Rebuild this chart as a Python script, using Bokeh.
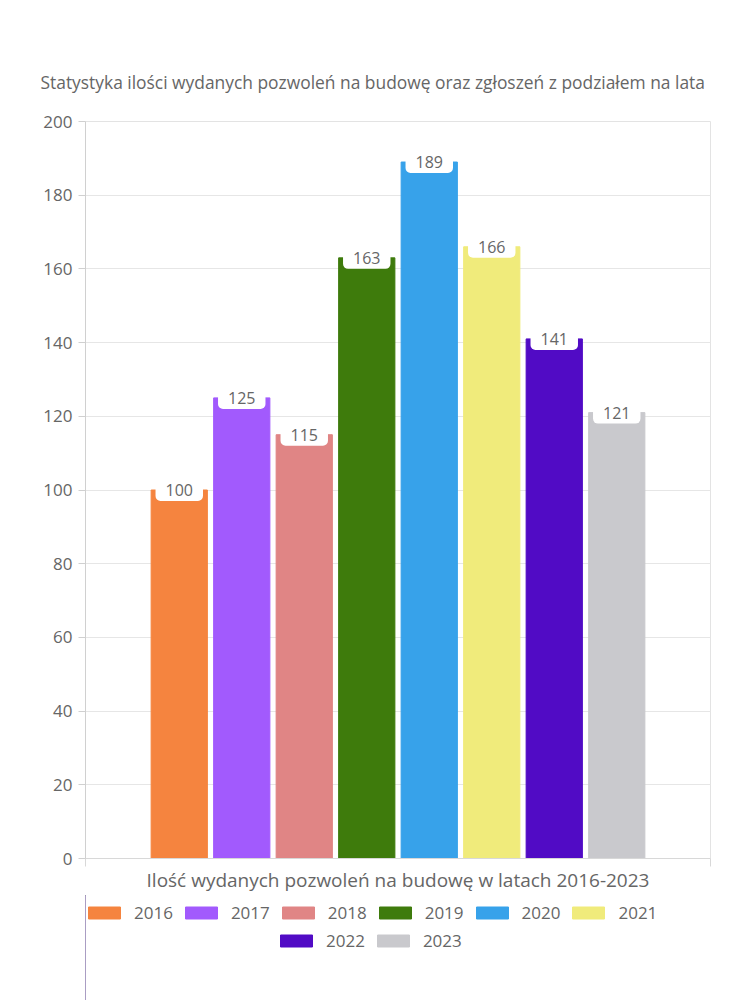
from bokeh.plotting import figure
from bokeh.layouts import column
from bokeh.models import Range1d, FixedTicker, Label, Legend, LegendItem, ColumnDataSource
from bokeh.embed import file_html
from bokeh.resources import INLINE

years = ["2016", "2017", "2018", "2019", "2020", "2021", "2022", "2023"]
values = [100, 125, 115, 163, 189, 166, 141, 121]
colors = ["#F5843F", "#A25AFD", "#E08585", "#3E7B0C", "#37A2EA", "#F0EB7B", "#510BC5", "#C9C9CD"]
y_ticks = [0, 20, 40, 60, 80, 100, 120, 140, 160, 180, 200]
title_text = "Statystyka ilości wydanych pozwoleń na budowę oraz zgłoszeń z podziałem na lata"
x_label = "Ilość wydanych pozwoleń na budowę w latach 2016-2023"

FONT = "Open Sans"
TXT = "#666666"

n = len(years)
xs = [i + 1.5 for i in range(n)]

p = figure(frame_width=625, frame_height=737, output_backend="svg", toolbar_location=None,
           x_range=Range1d(0, n + 2), y_range=Range1d(0, 200),
           min_border_left=85, min_border_right=40, min_border_top=121, min_border_bottom=37)
p.background_fill_color = "white"
p.border_fill_color = "white"
p.outline_line_color = "#e3e3e3"

p.title.text = title_text
p.title.align = "left"
p.title.offset = -45
p.title.standoff = 55
p.title.text_font = FONT
p.title.text_font_size = "17.4px"
p.title.text_font_style = "normal"
p.title.text_color = TXT

src = ColumnDataSource(dict(x=xs, top=values, color=colors, year=years))
r = p.vbar(x="x", top="top", width=0.9, color="color", source=src)

for x, v in zip(xs, values):
    p.add_layout(Label(x=x, y=v, text=str(v), text_align="center", text_baseline="middle",
                       text_font=FONT, text_font_size="16px", text_color=TXT,
                       background_fill_color="white", border_radius=5, padding=(10, 5)))

p.xgrid.visible = False
p.ygrid.grid_line_color = "#e6e6e6"

p.yaxis.ticker = FixedTicker(ticks=y_ticks)
p.yaxis.major_tick_out = 7
p.yaxis.major_tick_in = 0
p.yaxis.minor_tick_line_color = None
p.yaxis.axis_line_color = "#d0d0d0"
p.yaxis.major_tick_line_color = "#d0d0d0"
p.yaxis.major_label_standoff = 6
p.yaxis.major_label_text_font = FONT
p.yaxis.major_label_text_font_size = "17px"
p.yaxis.major_label_text_color = TXT

p.xaxis.ticker = FixedTicker(ticks=[0, n + 2])
p.xaxis.major_label_text_font_size = "0px"
p.xaxis.major_tick_out = 8
p.xaxis.major_tick_in = 0
p.xaxis.minor_tick_line_color = None
p.xaxis.axis_line_color = "#d8d8d8"
p.xaxis.major_tick_line_color = "#d8d8d8"
p.xaxis.axis_label = x_label
p.xaxis.axis_label_standoff = 0
p.xaxis.axis_label_text_font = FONT
p.xaxis.axis_label_text_font_size = "19px"
p.xaxis.axis_label_text_font_style = "normal"
p.xaxis.axis_label_text_color = TXT

# legend strip below the chart (frame aligned with the chart's frame: x 85..710)
leg_fig = figure(frame_width=625, frame_height=105, output_backend="svg", toolbar_location=None,
                 x_range=Range1d(1000, 1750), y_range=Range1d(0, 105),
                 x_axis_location=None, y_axis_location=None,
                 min_border_left=85, min_border_right=40, min_border_top=0, min_border_bottom=0)
leg_fig.grid.visible = False
leg_fig.outline_line_color = None
leg_fig.background_fill_color = "white"
leg_fig.border_fill_color = "white"
lr = leg_fig.vbar(x="x", top="top", width=0.9, color="color", source=src)


def make_legend(idx, loc):
    leg = Legend(items=[LegendItem(label=years[i], renderers=[lr], index=i) for i in idx],
                 orientation="horizontal", location=loc,
                 glyph_width=40, glyph_height=15, label_standoff=10, spacing=8,
                 padding=4, margin=0, border_line_color=None, background_fill_alpha=0,
                 label_text_font=FONT, label_text_font_size="17px", label_text_color=TXT)
    return leg


leg_fig.add_layout(make_legend(range(0, 6), (-1, 76)))
leg_fig.add_layout(make_legend(range(6, n), (191, 48)))

layout = column(p, leg_fig, spacing=0)
open("out.html", "w").write(file_html(layout, INLINE))
